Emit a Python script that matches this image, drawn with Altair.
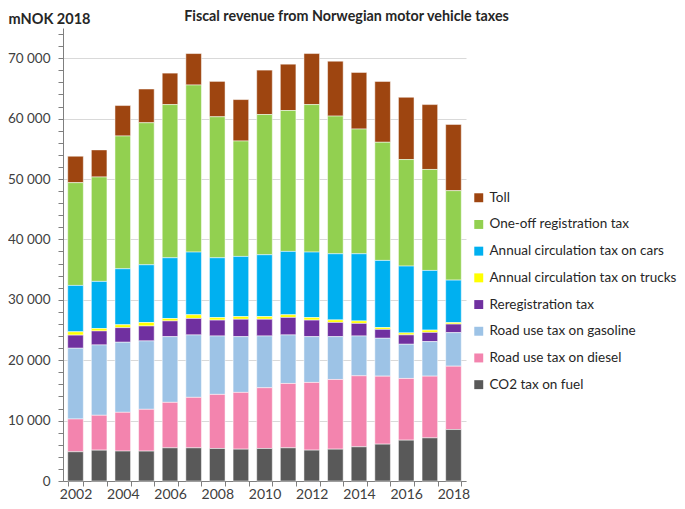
import altair as alt
import pandas as pd

years = list(range(2002, 2019))
series_names = [
    "Toll",
    "One-off registration tax",
    "Annual circulation tax on cars",
    "Annual circulation tax on trucks",
    "Reregistration tax",
    "Road use tax on gasoline",
    "Road use tax on diesel",
    "CO2 tax on fuel",
]
colors = ["#9E4510", "#92D050", "#00B0F0", "#FFFF00", "#7030A0", "#9DC3E6", "#F384AE", "#595959"]

toll = [4380, 4490, 5040, 5590, 5210, 5210, 5860, 6860, 7350, 7670, 8450, 9100, 9370, 10080, 10310, 10740, 10970]
registration = [17010, 17280, 21980, 23510, 25360, 27660, 23340, 19110, 23220, 23330, 24420, 22790, 20650, 19560, 17640, 16720, 14810]
cars = [7680, 7820, 9280, 9560, 10060, 10380, 9910, 9960, 10240, 10490, 10850, 10950, 11120, 11120, 11060, 9880, 7040]
trucks = [550, 390, 470, 580, 400, 610, 410, 440, 440, 440, 410, 420, 410, 300, 330, 380, 240]
rereg = [2170, 2310, 2420, 2470, 2600, 2730, 2630, 2880, 2770, 2900, 2740, 2350, 2080, 1470, 1550, 1520, 1420]
gasoline = [11710, 11650, 11600, 11320, 10880, 10330, 9670, 9230, 8570, 8030, 7580, 7090, 6590, 6270, 5660, 5720, 5550]
diesel = [5430, 5770, 6420, 6920, 7530, 8360, 8960, 9400, 10060, 10660, 11210, 11540, 11760, 11260, 10220, 10220, 10490]
co2 = [4840, 5110, 4950, 4950, 5490, 5490, 5380, 5270, 5380, 5490, 5110, 5270, 5660, 6100, 6760, 7140, 8520]

y_ticks = list(range(0, 75000, 2000))

series_values = [toll, registration, cars, trucks, rereg, gasoline, diesel, co2]
rows = []
for i, (name, vals) in enumerate(zip(series_names, series_values)):
    for yr, v in zip(years, vals):
        rows.append({"year": yr, "series": name, "value": v, "stack": len(series_names) - 1 - i})
df = pd.DataFrame(rows)

FONT = "Lato"
TXT = "#404040"

chart = alt.Chart(df).mark_bar(stroke="white", strokeWidth=0.5).encode(
    x=alt.X(
        "year:O",
        scale=alt.Scale(paddingInner=0.34, paddingOuter=0.2),
        axis=alt.Axis(
            title=None,
            labelAngle=0,
            labelExpr="datum.value % 2 == 0 ? datum.label : ''",
            tickBand="extent",
            tickSize=5,
            tickColor="#7F7F7F",
            domainColor="#7F7F7F",
            labelFontSize=14,
            labelFont=FONT,
            labelColor=TXT,
            labelPadding=1,
            grid=False,
        ),
    ),
    y=alt.Y(
        "value:Q",
        stack="zero",
        scale=alt.Scale(domain=[0, 75000], nice=False),
        axis=alt.Axis(
            values=y_ticks,
            labelExpr="datum.value % 10000 == 0 ? replace(format(datum.value, ','), ',', ' ') : ''",
            labelOverlap=False,
            tickSize=5,
            tickColor="#7F7F7F",
            domainColor="#7F7F7F",
            labelFontSize=13.5,
            labelFont=FONT,
            labelColor=TXT,
            labelPadding=8,
            grid=True,
            gridColor="#D9D9D9",
            gridOpacity=alt.condition("datum.value % 10000 == 0", alt.value(1), alt.value(0)),
            title="mNOK 2018",
            titleAngle=0,
            titleAlign="left",
            titleBaseline="alphabetic",
            titleX=-55,
            titleY=-5,
            titleFont=FONT,
            titleFontSize=14.5,
            titleFontWeight="bold",
            titleColor="#262626",
        ),
    ),
    color=alt.Color(
        "series:N",
        scale=alt.Scale(domain=series_names, range=colors),
        legend=alt.Legend(
            title=None,
            orient="none",
            legendX=409,
            legendY=163,
            symbolType="square",
            symbolSize=80,
            symbolStrokeWidth=0,
            labelFont=FONT,
            labelFontSize=13.5,
            labelColor="#262626",
            labelOffset=4,
            rowPadding=11.7,
            padding=0,
            labelLimit=400,
        ),
    ),
    order=alt.Order("stack:Q", sort="ascending"),
).properties(
    width=403,
    height=453,
    title=alt.TitleParams(
        "Fiscal revenue from Norwegian motor vehicle taxes",
        anchor="middle",
        dx=82,
        offset=0,
        dy=13,
        font=FONT,
        fontSize=14.3,
        fontWeight="bold",
        color="#262626",
    ),
    autosize=alt.AutoSizeParams(type="none"),
    padding={"left": 55, "top": 20, "right": 211, "bottom": 20},
).configure_view(stroke=None)

chart.save("out.html", embed_options={"renderer": "svg", "actions": False})
